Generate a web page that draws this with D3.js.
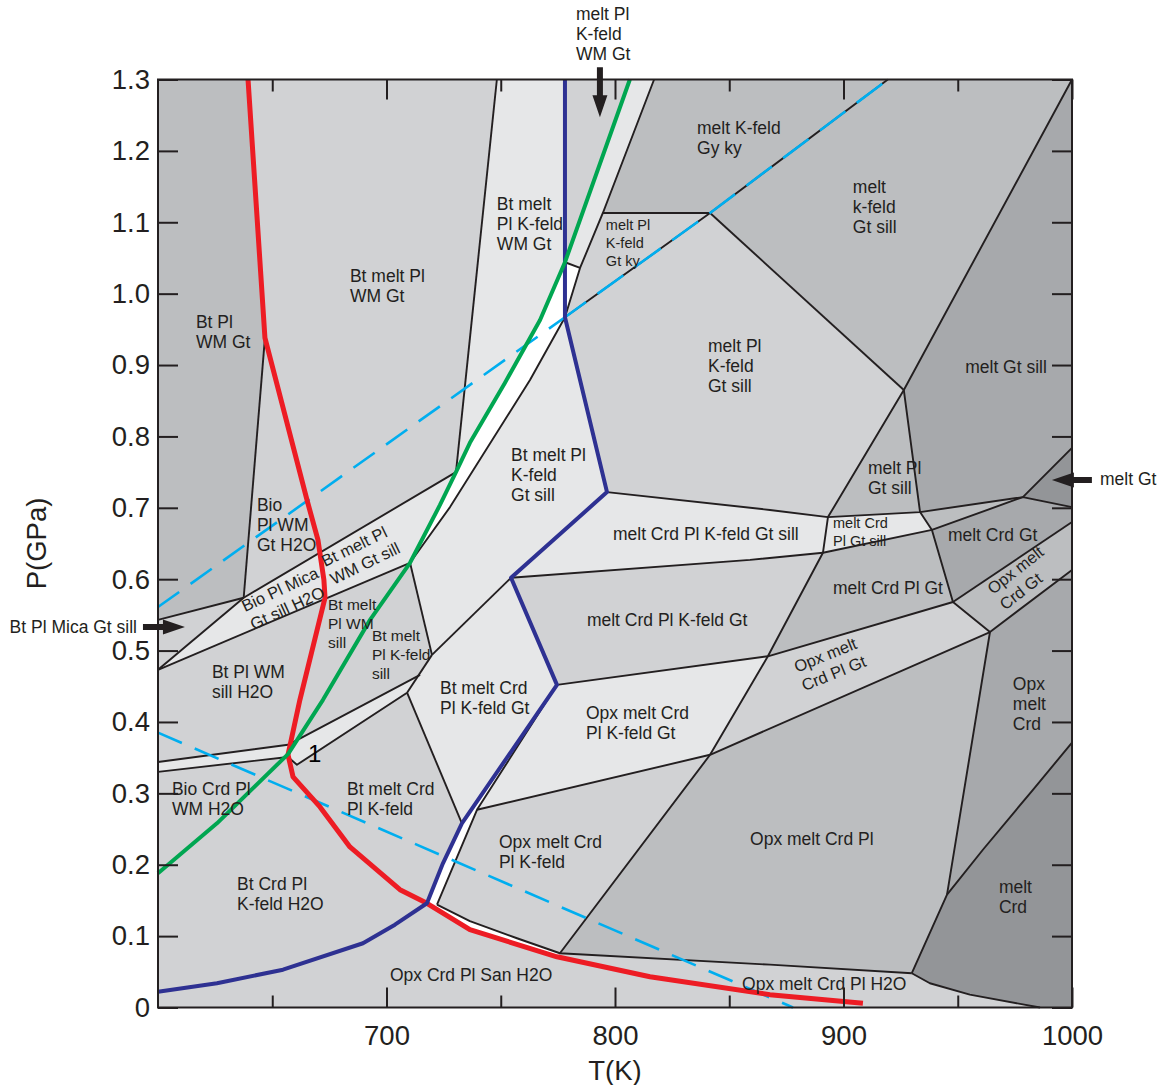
<!DOCTYPE html>
<html><head><meta charset="utf-8">
<script src="https://cdnjs.cloudflare.com/ajax/libs/d3/7.8.5/d3.min.js"></script>
<style>
html,body{margin:0;padding:0;background:#fff;}
svg{display:block;font-family:"Liberation Sans",Arial,Helvetica,sans-serif;}
</style></head><body>
<svg id="chart" width="1173" height="1085"></svg>
<script>
// ---- axes ----
const tempDomain = [600, 1000];
const presDomain = [0, 1.3];
const tempTicks = [700, 800, 900, 1000];
const tempMinorTicks = [650, 750, 850, 950];
const presTicks = [0, 0.1, 0.2, 0.3, 0.4, 0.5, 0.6, 0.7, 0.8, 0.9, 1.0, 1.1, 1.2, 1.3];

// ---- field corners, [T (K), P (GPa)] ----
const nodes = {
  topLeft:[600,1.3], topRight:[1000,1.3], botRight:[1000,0],
  redTop:[639.4,1.3], a1:[646.8,0.938], a2:[637.5,0.574], a3:[600,0.543], a4:[600,0.473],
  a5:[730.4,0.750], a6:[710.3,0.623],
  b1:[748.3,1.3], b2:[778.1,1.3], b3:[806.5,1.3], b4:[817.1,1.3],
  b5:[778.1,1.044], b6:[784.7,1.036], b7:[778.1,0.967], b8:[794.7,1.113], b9:[841.6,1.113],
  b10:[919.4,1.3], b11:[926.4,0.865],
  w1:[762.8,0.879], w2:[727.8,0.701],
  gr1:[767.2,0.963], gr2:[751.8,0.875], gr3:[736.5,0.791], gr4:[723.4,0.704],
  c1:[796.5,0.722], c2:[754.5,0.602], c3:[719.9,0.494], c4:[709.0,0.441], c5:[714.7,0.466],
  s1:[600,0.344], s2:[656.9,0.368], s3:[600,0.330], s4:[656.9,0.351], s5:[660.8,0.340],
  d1:[774.6,0.452], d2:[739.6,0.277], d3:[733.0,0.258], d4:[722.1,0.144], d5:[717.7,0.146], d6:[724.7,0.202],
  e1:[841.6,0.354], e2:[866.9,0.492], e3:[891.0,0.637], e4:[893.2,0.687], e5:[867.8,0.697], e6:[859.1,0.627],
  e7:[933.5,0.694], e8:[938.7,0.669], e9:[978.5,0.715], e10:[1000,0.784], e11:[1000,0.701], e12:[1000,0.680],
  e13:[947.9,0.568], e14:[964.1,0.526], e15:[1000,0.613],
  f1:[1000,0.371], f2:[982.9,0.305], f3:[961.0,0.221], f4:[945.3,0.158], f5:[929.9,0.048],
  f6:[937.8,0.034], f7:[955.3,0.018], f8:[986.0,0],
  g1:[775.9,0.076], g2:[867.8,0.060], g3:[736.5,0.121], g4:[757.1,0.097]
};

// ---- curves ----
const redCurve = [[639.4,1.3],[646.8,0.938],[665.2,0.711],[670.0,0.655],[672.6,0.599],[673.1,0.574],
  [662.1,0.431],[656.9,0.354],[659.1,0.323],[670.9,0.281],[684.0,0.225],[705.9,0.165],[717.7,0.146],
  [736.5,0.109],[774.6,0.071],[815.3,0.043],[867.8,0.018],[908.5,0.006]];
const greenCurve = [[600,0.188],[625.8,0.258],[656.9,0.355],[672.2,0.431],[692.8,0.543],"a6","gr4","a5","gr3","gr2","gr1","b5","b3"];
const blueCurve = ["b2","b7","c1","c2","d1","d3","d6","d5",[703.7,0.116],[689.7,0.090],[654.7,0.053],[625.8,0.034],[600,0.022]];
const dashedUpperLow = [[600,0.561],"b7"];
const dashedUpperHigh = ["b7","b9","b10"];
const dashedLower = [[600,0.385],[877.9,0]];

// ---- filled fields (base shade is "light") ----
const fields = [
  {shade:"medium", path:["topLeft","redTop","a1","a2","a3"]},
  {shade:"medium", path:["b4","topRight","b11","b9","b8"]},
  {shade:"medium", path:["e4","b11","e7"]},
  {shade:"medium", path:["e7","e9","e8"]},
  {shade:"medium", path:["e3","e8","e13","e2"]},
  {shade:"medium", path:["e13","e12","e15","e14"]},
  {shade:"medium", path:["e1","e14","f4","f5","g2","g1"]},
  {shade:"dark", path:["b11","topRight","e10","e9","e7"]},
  {shade:"dark", path:["e8","e9","e11","e12","e13"]},
  {shade:"dark", path:["e14","e15","f1","f2","f3","f4"]},
  {shade:"darkest", path:["e9","e10","e11"]},
  {shade:"darkest", path:["f4","f3","f2","f1","botRight","f8","f7","f6","f5"]},
  {shade:"lightest", path:["b1","b2","b5","gr1","gr2","gr3","a5"]},
  {shade:"lightest", path:["b3","b4","b6","b5"]},
  {shade:"lightest", path:["a4","a2","a5","gr4","a6"]},
  {shade:"lightest", path:["s1","s2","c5","c4","s5","s4","s3"]},
  {shade:"lightest", path:["b7","c1","c2","c3","a6","w2","w1"]},
  {shade:"lightest", path:["c5","c3","c2","d1","d3","c4"]},
  {shade:"lightest", path:["c1","e5","e4","e3","e6","c2"]},
  {shade:"lightest", path:["e4","e7","e8","e3"]},
  {shade:"lightest", path:["d1","e2","e1","d2"]},
  {shade:"white", path:["b5","b6","b7","w1","w2","a6","gr4","a5","gr3","gr2","gr1"]},
  {shade:"white", path:["d1","d2","d4","d5","d6","d3"]},
  {shade:"white", path:["d4","g3","g4","g1",[774.6,0.071],[736.5,0.109],"d5"]}
];

// ---- field boundaries ----
const boundaries = [
  ["a1","a2"],["a3","a2"],["a4","a2"],["a2","a5"],["a4","a6"],["b1","a5"],
  ["b4","b8","b6","b7"],["b5","b6"],["b7","w1","w2","a6"],["a6","c3"],["c3","c2"],["c3","c4"],
  ["s1","s2","c5"],["s3","s4","s5","c4"],["c4","d3"],["d1","d2","d4"],["d2","e1"],
  ["d4","g3","g4","g1","g2","f5"],["f5","f6","f7","f8"],["f5","f4","e14"],["f4","f3","f2","f1"],
  ["g1","e1","e2","e3"],["e1","e14","e15"],["e2","e13","e14"],["e13","e12"],["e13","e8","e7","b11"],
  ["e3","e8","e9","e11"],["e4","e7","e9","e10"],["e3","e4","b11","topRight"],["b9","b11"],["b8","b9"],
  ["b7","b9","b10"],["c1","e5","e4"],["c2","e6","e3"],["d1","e2"]
];

// ---- field labels ----
const fieldLabels = [
  {lines:["Bt Pl","WM Gt"], T:616.6, P:0.952},
  {lines:["Bt melt Pl","WM Gt"], T:684.0, P:1.016},
  {lines:["Bt melt","Pl K-feld","WM Gt"], T:748.3, P:1.117},
  {lines:["melt K-feld","Gy ky"], T:835.9, P:1.224},
  {lines:["melt Pl","K-feld","Gt ky"], T:796.0, P:1.089, kind:"small"},
  {lines:["melt","k-feld","Gt sill"], T:904.1, P:1.141},
  {lines:["melt Gt sill"], T:989.0, P:0.889, kind:"end"},
  {lines:["melt Pl","K-feld","Gt sill"], T:840.7, P:0.918},
  {lines:["Bt melt Pl","K-feld","Gt sill"], T:754.5, P:0.766},
  {lines:["melt Pl","Gt sill"], T:910.7, P:0.747},
  {lines:["melt Crd","Pl Gt sill"], T:895.4, P:0.672, kind:"small"},
  {lines:["melt Crd Gt"], T:945.7, P:0.654},
  {lines:["melt Crd Pl K-feld Gt sill"], T:799.1, P:0.655},
  {lines:["melt Crd Pl Gt"], T:895.4, P:0.579},
  {lines:["melt Crd Pl K-feld Gt"], T:787.7, P:0.534},
  {lines:["Opx melt","Crd Gt"], T:965.4, P:0.578, rot:-38},
  {lines:["Opx melt","Crd Pl Gt"], T:879.6, P:0.469, rot:-22},
  {lines:["Bt melt Pl","WM Gt sill"], T:673.1, P:0.617, rot:-26},
  {lines:["Bio Pl Mica","Gt sill H2O"], T:638.1, P:0.554, rot:-25},
  {lines:["Bio","Pl WM","Gt H2O"], T:643.3, P:0.696},
  {lines:["Bt melt","Pl WM","sill"], T:674.4, P:0.557, kind:"mid"},
  {lines:["Bt melt","Pl K-feld","sill"], T:693.6, P:0.513, kind:"mid"},
  {lines:["Bt Pl WM","sill H2O"], T:623.6, P:0.462},
  {lines:["Bt melt Crd","Pl K-feld Gt"], T:723.4, P:0.439},
  {lines:["Opx melt Crd","Pl K-feld Gt"], T:787.3, P:0.404},
  {lines:["Bio Crd Pl","WM H2O"], T:606.1, P:0.298},
  {lines:["Bt melt Crd","Pl K-feld"], T:682.7, P:0.298},
  {lines:["Bt Crd Pl","K-feld H2O"], T:634.6, P:0.165},
  {lines:["Opx melt Crd","Pl K-feld"], T:749.2, P:0.223},
  {lines:["Opx melt Crd Pl"], T:859.1, P:0.228},
  {lines:["Opx","melt","Crd"], T:974.1, P:0.445},
  {lines:["melt","Crd"], T:968.0, P:0.160},
  {lines:["Opx Crd Pl San H2O"], T:701.5, P:0.037},
  {lines:["Opx melt Crd Pl H2O"], T:855.6, P:0.025}
];

// ---- drawing ----
const shades = {lightest:"#e6e7e8", light:"#d1d2d4", medium:"#bcbec0", dark:"#a7a9ac", darkest:"#939598", white:"#ffffff"};
const ink = "#231f20";
const svg = d3.select("#chart");
const x = d3.scaleLinear().domain(tempDomain).range([158, 1072]);
const y = d3.scaleLinear().domain(presDomain).range([1007.5, 79.5]);
const pt = p => (typeof p === "string" ? nodes[p] : p);
const line = d3.line().x(d => x(pt(d)[0])).y(d => y(pt(d)[1]));

svg.append("rect").attr("x", x(600)).attr("y", y(1.3)).attr("width", x(1000) - x(600)).attr("height", y(0) - y(1.3)).attr("fill", shades.light);

svg.append("g").selectAll("path").data(fields).join("path")
  .attr("d", d => line(d.path) + "Z").attr("fill", d => shades[d.shade]).attr("stroke", "none");

svg.append("g").selectAll("path").data(boundaries).join("path")
  .attr("d", d => line(d)).attr("fill", "none").attr("stroke", ink).attr("stroke-width", 1.9).attr("stroke-linejoin", "round");

// dashed light-blue lines
const dash = svg.append("g").attr("fill", "none").attr("stroke", "#00aeef").attr("stroke-width", 2.6);
dash.append("path").attr("d", line(dashedUpperLow)).attr("stroke-dasharray", "26,14");
dash.append("path").attr("d", line(dashedUpperHigh)).attr("stroke-dasharray", "32,14").attr("stroke-dashoffset", 6);
dash.append("path").attr("d", line(dashedLower)).attr("stroke-dasharray", "26,14");

// thick curves
svg.append("path").attr("d", line(redCurve)).attr("fill", "none").attr("stroke", "#ed1c24").attr("stroke-width", 5).attr("stroke-linejoin", "round");
svg.append("path").attr("d", line(blueCurve)).attr("fill", "none").attr("stroke", "#2e3192").attr("stroke-width", 4).attr("stroke-linejoin", "round");
svg.append("path").attr("d", line(greenCurve)).attr("fill", "none").attr("stroke", "#00a651").attr("stroke-width", 4).attr("stroke-linejoin", "round");

// field labels
const labelStyle = {small:{size:14.5, lh:18}, mid:{size:15.5, lh:19}};
fieldLabels.forEach(l => {
  const st = l.rot ? {size:16.5, lh:20} : (labelStyle[l.kind] || {size:17.5, lh:20});
  const g = svg.append("g").attr("transform", `translate(${x(l.T)},${y(l.P)}) rotate(${l.rot || 0})`);
  const t = g.append("text").attr("font-size", st.size).attr("fill", ink)
    .attr("text-anchor", l.kind === "end" ? "end" : "start");
  l.lines.forEach((s, i) => t.append("tspan").attr("x", 0).attr("y", i * st.lh).text(s));
});
svg.append("text").attr("x", x(665.6)).attr("y", y(0.344)).attr("font-size", 24).attr("fill", "#000").text("1");

// axes
function styleAxis(g, fontSize) {
  g.select(".domain").remove();
  g.selectAll(".tick line").attr("stroke", ink).attr("stroke-width", 2);
  g.selectAll(".tick text").attr("font-size", fontSize).attr("fill", ink).attr("font-family", '"Liberation Sans",Arial,sans-serif');
}
const fmtP = d => (d === 0 ? "0" : d.toFixed(1));
svg.append("g").attr("transform", `translate(${x(600)},0)`)
  .call(d3.axisLeft(y).tickValues(presTicks).tickSizeInner(-20).tickSizeOuter(0).tickPadding(8).tickFormat(fmtP))
  .call(g => styleAxis(g, 27.5));
svg.append("g").attr("transform", `translate(${x(1000)},0)`)
  .call(d3.axisRight(y).tickValues(presTicks).tickSizeInner(-20).tickSizeOuter(0).tickFormat(""))
  .call(g => styleAxis(g, 27));
svg.append("g").attr("transform", `translate(0,${y(0)})`)
  .call(d3.axisBottom(x).tickValues(tempTicks).tickSizeInner(-20).tickSizeOuter(0).tickPadding(18).tickFormat(d3.format("d")))
  .call(g => styleAxis(g, 27.5));
svg.append("g").attr("transform", `translate(0,${y(0)})`)
  .call(d3.axisBottom(x).tickValues(tempMinorTicks).tickSizeInner(-12).tickSizeOuter(0).tickFormat(""))
  .call(g => styleAxis(g, 27));
svg.append("g").attr("transform", `translate(0,${y(1.3)})`)
  .call(d3.axisTop(x).tickValues(tempTicks).tickSizeInner(-20).tickSizeOuter(0).tickFormat(""))
  .call(g => styleAxis(g, 27));
svg.append("g").attr("transform", `translate(0,${y(1.3)})`)
  .call(d3.axisTop(x).tickValues(tempMinorTicks).tickSizeInner(-12).tickSizeOuter(0).tickFormat(""))
  .call(g => styleAxis(g, 27));

svg.append("rect").attr("x", x(600)).attr("y", y(1.3)).attr("width", x(1000) - x(600)).attr("height", y(0) - y(1.3))
  .attr("fill", "none").attr("stroke", ink).attr("stroke-width", 2);

svg.append("text").attr("x", x(800)).attr("y", 1080).attr("text-anchor", "middle").attr("font-size", 27.5).attr("fill", ink).text("T(K)");
svg.append("text").attr("transform", `translate(46,${y(0.65)}) rotate(-90)`).attr("text-anchor", "middle").attr("font-size", 27.5).attr("fill", ink).text("P(GPa)");

// callouts outside the frame
function arrow(tipX, tipY, dir, len) {
  // dir: unit vector from tail to tip
  const [dx, dy] = dir, px = -dy, py = dx;
  const head = 22, hw = 7.5, sw = 3;
  const bx = tipX - dx * head, by = tipY - dy * head;
  const tx = tipX - dx * len, ty = tipY - dy * len;
  const p = [[tx + px * sw, ty + py * sw], [bx + px * sw, by + py * sw], [bx + px * hw, by + py * hw], [tipX, tipY],
             [bx - px * hw, by - py * hw], [bx - px * sw, by - py * sw], [tx - px * sw, ty - py * sw]];
  svg.append("path").attr("d", "M" + p.map(q => q.join(",")).join("L") + "Z").attr("fill", ink);
}
arrow(x(793.4), y(1.247), [0, 1], 50);
arrow(x(611.8), y(0.533), [1, 0], 42);
arrow(x(991.2), y(0.739), [-1, 0], 40);

const topNote = svg.append("text").attr("font-size", 17.5).attr("fill", ink);
["melt Pl", "K-feld", "WM Gt"].forEach((s, i) => topNote.append("tspan").attr("x", x(782.9)).attr("y", 20 + i * 20).text(s));
svg.append("text").attr("x", x(600) - 21).attr("y", y(0.525)).attr("text-anchor", "end").attr("font-size", 17.5).attr("fill", ink).text("Bt Pl Mica Gt sill");
svg.append("text").attr("x", 1100).attr("y", y(0.732)).attr("font-size", 17.5).attr("fill", ink).text("melt Gt");
</script></body></html>
